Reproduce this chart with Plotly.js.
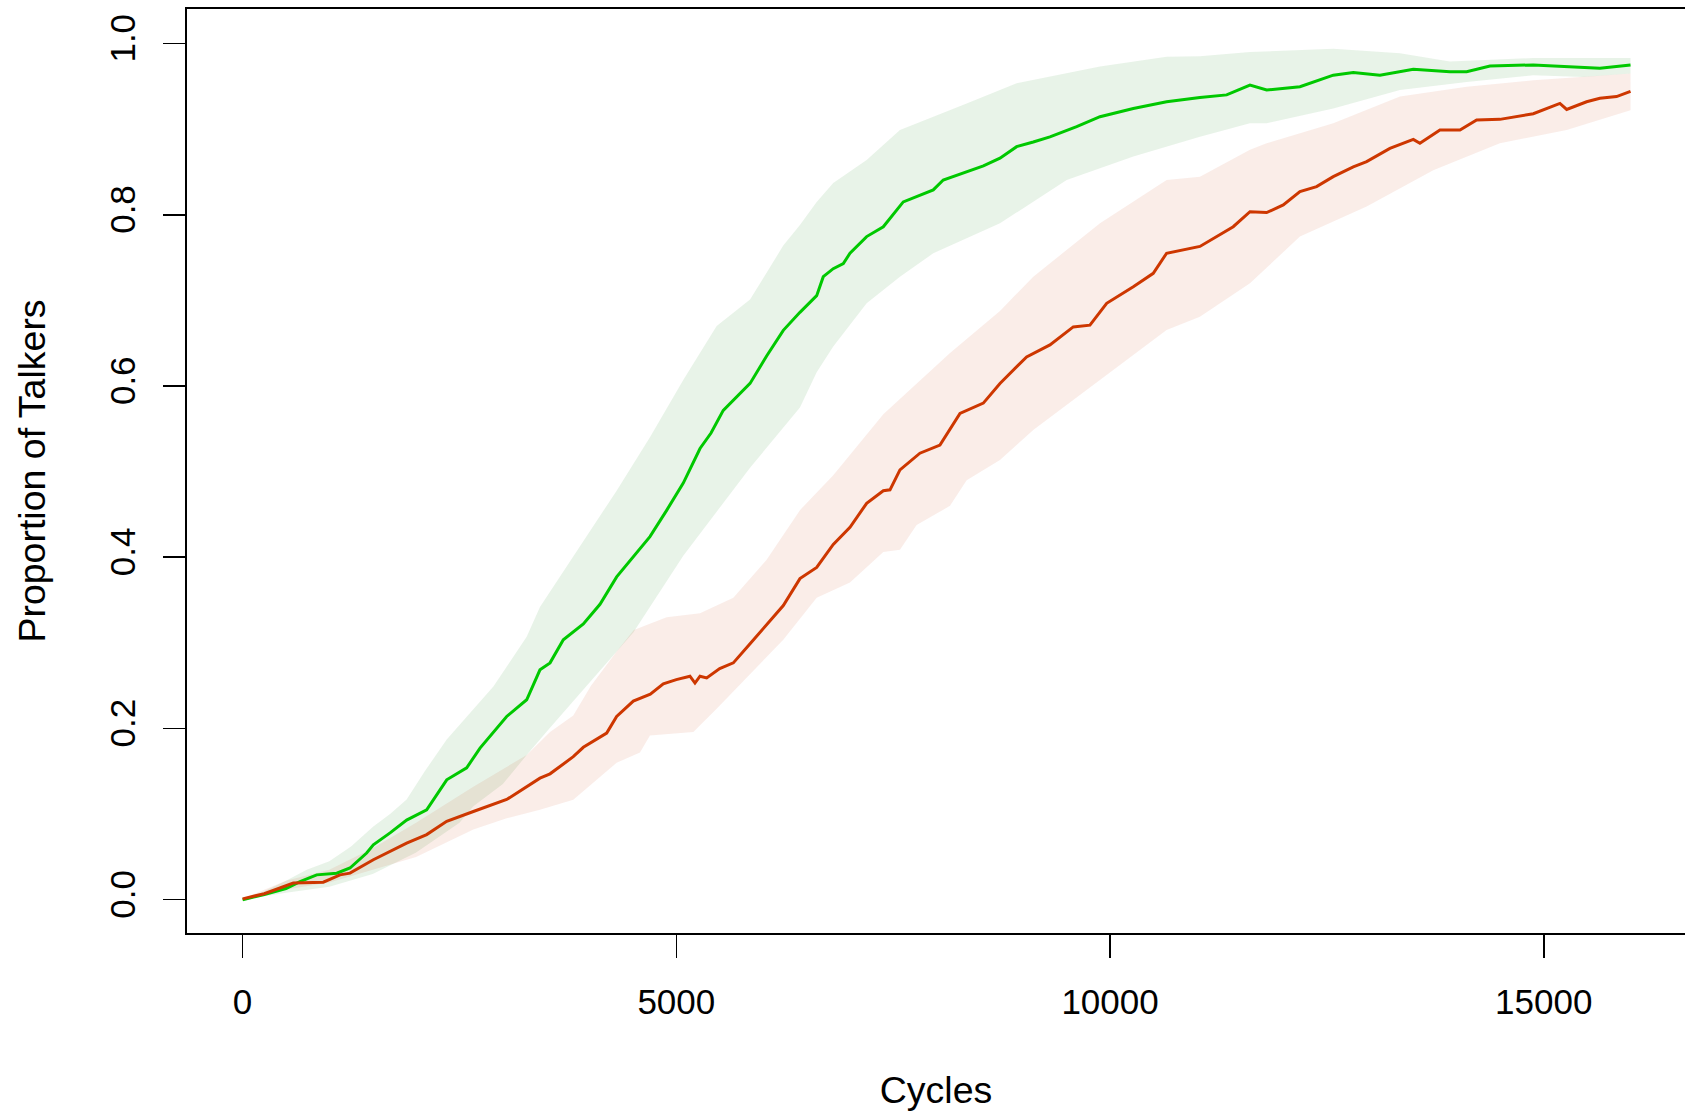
<!DOCTYPE html>
<html>
<head>
<meta charset="utf-8">
<script src="https://cdn.plot.ly/plotly-3.0.1.min.js"></script>
<style>html,body{margin:0;padding:0;background:#fff;}#chart{width:1685px;height:1113px;}</style>
</head>
<body>
<div id="chart"></div>
<script>
// ---- Data ----
const xTickVals = [0, 5000, 10000, 15000];
const xTickText = ["0", "5000", "10000", "15000"];
const yTickVals = [0, 0.2, 0.4, 0.6, 0.8, 1.0];
const yTickText = ["0.0", "0.2", "0.4", "0.6", "0.8", "1.0"];

const greenMeanX = [0,250,500,662,854,1085,1238,1430,1507,1700,1891,2122,2353,2583,2737,3044,3275,3428,3544,3697,3928,4120,4312,4500,4696,4890,5080,5273,5400,5541,5700,5850,6041,6233,6425,6618,6694,6809,6925,7002,7194,7386,7616,7800,7962,8077,8347,8540,8731,8923,9115,9307,9615,9884,10268,10652,11036,11344,11613,11805,12189,12573,12804,13111,13496,13918,14111,14380,14879,15264,15647,16000];
const greenMeanY = [0.000,0.006,0.013,0.021,0.029,0.031,0.037,0.0545,0.064,0.078,0.093,0.105,0.140,0.154,0.177,0.214,0.2335,0.2685,0.2766,0.3036,0.322,0.345,0.377,0.400,0.424,0.455,0.4866,0.527,0.545,0.5715,0.588,0.603,0.635,0.665,0.686,0.7055,0.7277,0.737,0.743,0.755,0.7745,0.786,0.815,0.822,0.829,0.8406,0.850,0.857,0.866,0.8795,0.885,0.891,0.903,0.9145,0.924,0.932,0.937,0.940,0.9515,0.9457,0.9496,0.963,0.966,0.963,0.970,0.967,0.967,0.9737,0.975,0.973,0.971,0.975];

const greenUpperX = [0,250,500,739,1000,1250,1507,1700,1891,2100,2353,2660,2891,3044,3275,3428,3544,3928,4312,4696,5080,5465,5850,6233,6425,6618,6809,7194,7578,8347,8923,9884,10652,11036,11613,12573,13342,13918,14879,16000];
const greenUpperY = [0.000,0.010,0.022,0.035,0.045,0.062,0.0856,0.100,0.117,0.150,0.187,0.222,0.249,0.272,0.307,0.342,0.360,0.4196,0.4777,0.540,0.607,0.670,0.701,0.764,0.788,0.815,0.837,0.864,0.899,0.930,0.9535,0.973,0.9846,0.985,0.990,0.994,0.9885,0.979,0.983,0.983];

const greenLowerX = [0,250,500,1000,1500,2000,2500,2660,3000,3275,3544,4504,5080,5850,6425,6618,6809,7194,7578,7962,8731,9500,10268,11036,11613,11805,12573,13342,14111,14879,15455,16000];
const greenLowerY = [0.000,0.004,0.008,0.015,0.030,0.055,0.090,0.109,0.135,0.169,0.2007,0.312,0.4018,0.5045,0.575,0.616,0.646,0.6966,0.7277,0.755,0.790,0.8406,0.868,0.891,0.907,0.907,0.924,0.9457,0.955,0.963,0.961,0.965];

const redMeanX = [0,250,585,930,1123,1238,1507,1891,2122,2353,2660,3044,3428,3544,3812,3928,4197,4312,4504,4700,4850,5000,5157,5215,5273,5350,5500,5657,5850,6041,6233,6425,6618,6809,7002,7194,7386,7463,7578,7808,8039,8270,8539,8731,9038,9307,9576,9768,9961,10268,10498,10652,11036,11420,11613,11805,11997,12189,12381,12573,12804,12958,13226,13496,13572,13803,14034,14226,14494,14879,15071,15186,15264,15494,15647,15839,16000];
const redMeanY = [0.001,0.007,0.0195,0.0205,0.029,0.031,0.0467,0.066,0.076,0.0915,0.103,0.117,0.142,0.147,0.167,0.178,0.1946,0.214,0.232,0.240,0.252,0.257,0.261,0.253,0.261,0.259,0.270,0.2766,0.299,0.321,0.3436,0.375,0.388,0.415,0.435,0.463,0.4777,0.4787,0.502,0.5215,0.531,0.568,0.580,0.603,0.634,0.648,0.669,0.671,0.6966,0.716,0.7316,0.755,0.763,0.786,0.8036,0.8025,0.8114,0.827,0.8328,0.8445,0.856,0.862,0.8775,0.888,0.8834,0.899,0.899,0.9107,0.9114,0.918,0.926,0.930,0.923,0.932,0.936,0.938,0.944];

const redUpperX = [0,500,1000,1500,2000,2660,3275,3544,3812,4016,4312,4510,4888,5273,5657,6041,6425,6809,7386,7770,8155,8731,9115,9884,10652,11036,11613,11805,12573,13342,14111,14879,16000];
const redUpperY = [0.001,0.022,0.035,0.060,0.090,0.132,0.169,0.196,0.215,0.250,0.290,0.315,0.330,0.3347,0.3526,0.397,0.455,0.4956,0.567,0.603,0.6386,0.6877,0.7277,0.790,0.8406,0.8445,0.876,0.8834,0.907,0.938,0.9496,0.957,0.965];

const redLowerX = [0,500,1000,1500,2000,2660,3044,3428,3812,4312,4581,4696,5196,5465,5850,6233,6618,7002,7386,7578,7770,8155,8347,8731,9115,9884,10652,11036,11613,12189,12958,13726,14494,15264,16000];
const redLowerY = [0.001,0.012,0.020,0.035,0.050,0.082,0.095,0.105,0.1168,0.160,0.172,0.1917,0.196,0.223,0.263,0.3035,0.3526,0.3705,0.406,0.4086,0.4375,0.460,0.490,0.5135,0.5487,0.607,0.6655,0.681,0.720,0.7745,0.8095,0.852,0.8834,0.899,0.922];

// ---- Styles ----
const GREEN = 'rgb(0,200,0)';
const RED = 'rgb(205,55,0)';
const GREEN_BAND = 'rgba(34,139,34,0.10)';
const RED_BAND = 'rgba(205,55,0,0.09)';
const FONT = '"Liberation Sans", Arial, Helvetica, sans-serif';
const TICK_SIZE = 35;
const TITLE_SIZE = 37.5;

function band(ux, uy, lx, ly, color) {
  return {
    type: 'scatter', mode: 'lines',
    x: ux.concat(lx.slice().reverse()),
    y: uy.concat(ly.slice().reverse()),
    fill: 'toself', fillcolor: color,
    line: {width: 0, color: 'rgba(0,0,0,0)'},
    hoverinfo: 'skip', showlegend: false
  };
}

const traces = [
  band(greenUpperX, greenUpperY, greenLowerX, greenLowerY, GREEN_BAND),
  band(redUpperX, redUpperY, redLowerX, redLowerY, RED_BAND),
  {type: 'scatter', mode: 'lines', x: greenMeanX, y: greenMeanY,
   line: {color: GREEN, width: 3}, showlegend: false},
  {type: 'scatter', mode: 'lines', x: redMeanX, y: redMeanY,
   line: {color: RED, width: 3}, showlegend: false}
];

const layout = {
  width: 1685, height: 1113,
  margin: {l: 187, r: 0, t: 9, b: 180, pad: 0},
  paper_bgcolor: '#fff', plot_bgcolor: '#fff',
  font: {family: FONT, size: TICK_SIZE, color: '#000'},
  showlegend: false,
  xaxis: {
    range: [-641, 16628], showgrid: false, zeroline: false,
    showline: true, linecolor: '#000', linewidth: 1.6, mirror: true,
    ticks: 'outside', ticklen: 23, tickwidth: 1.6, tickcolor: '#000',
    tickvals: xTickVals, ticktext: xTickText, ticklabelstandoff: 14,
    tickfont: {family: FONT, size: TICK_SIZE, color: '#000'},
    title: {text: 'Cycles', font: {family: FONT, size: TITLE_SIZE, color: '#000'}, standoff: 57}
  },
  yaxis: {
    range: [-0.0389, 1.0403], showgrid: false, zeroline: false,
    showline: true, linecolor: '#000', linewidth: 1.6, mirror: false,
    ticks: 'outside', ticklen: 22, tickwidth: 1.6, tickcolor: '#000',
    tickvals: yTickVals, ticktext: yTickText, tickangle: -90, ticklabelstandoff: 14,
    tickfont: {family: FONT, size: TICK_SIZE, color: '#000'},
    title: {text: 'Proportion of Talkers', font: {family: FONT, size: TITLE_SIZE, color: '#000'}, standoff: 46}
  }
};

Plotly.newPlot('chart', traces, layout, {staticPlot: true, displayModeBar: false});
</script>
</body>
</html>
